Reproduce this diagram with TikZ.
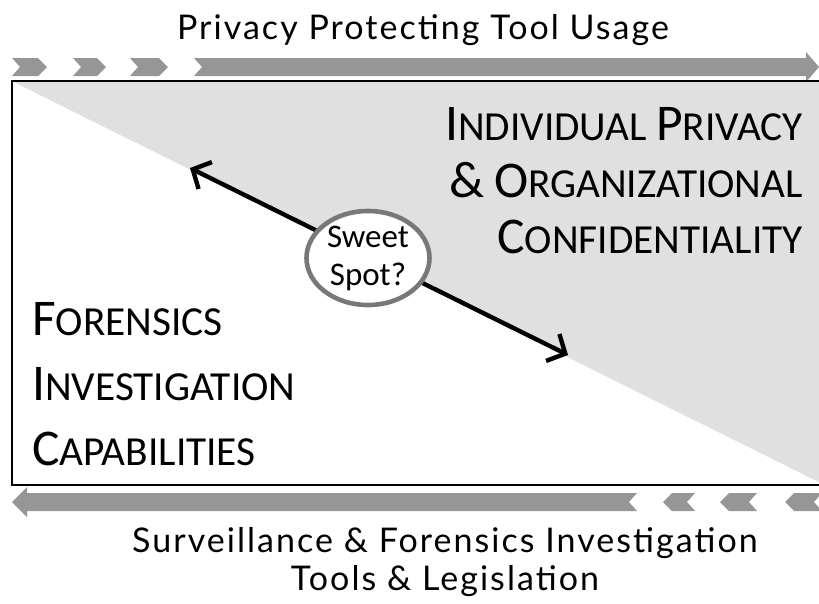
\documentclass[tikz,border=0pt]{standalone}
\usepackage{fontspec}
\setmainfont{Carlito}
\newfontfamily\titfont[LetterSpace=6]{Lato}
\usetikzlibrary{arrows.meta,shapes.geometric}
\definecolor{arrgray}{RGB}{150,150,150}
\definecolor{trigray}{RGB}{224,224,224}
\definecolor{ringgray}{RGB}{120,120,120}
\newcommand\BigSmall[2]{{\fontsize{51.5}{51.5}\selectfont #1}{\fontsize{41.3}{41.3}\selectfont #2}}
\begin{document}
\begin{tikzpicture}[x=1pt,y=-1pt,
  bandarrow/.style={fill=arrgray,draw=none},
  bigtext/.style={inner sep=0pt,font=\fontsize{41.3}{41.3}\selectfont},
  titletext/.style={inner sep=0pt,font=\titfont\fontsize{34}{34}\selectfont},
  spot/.style={ellipse,draw=ringgray,line width=4.6pt,fill=white,inner sep=0pt,
    minimum width=123pt,minimum height=94pt,align=center,font=\fontsize{33}{38}\selectfont}]
\useasboundingbox (0,0) rectangle (819,603);
% title
\node[titletext,anchor=base] (toptitle) at (423,39) {Privacy Protecting Tool Usage};
% top arrow chevrons
\foreach \xa/\xb in {12/47,73/106,130/168}{
  \fill[bandarrow] (\xa,58) -- (\xb-9,58) -- (\xb,67) -- (\xb-9,76) -- (\xa,76) -- (\xa+8,67) -- cycle;
}
\fill[bandarrow] (194,58) -- (806,58) -- (806,52) -- (819,67) -- (806,82) -- (806,76) -- (194,76) -- (202,67) -- cycle;
% box with shaded triangle
\fill[trigray] (12,81) -- (830,81) -- (830,482) -- (819,482) -- cycle;
\fill[trigray] (12,81) -- (819,81) -- (819,482) -- cycle;
\draw[line width=2.8pt] (12,81) rectangle (830,485);
% bottom arrow
\fill[bandarrow] (12,502) -- (27,487) -- (27,493) -- (637,493) -- (629,502) -- (637,511) -- (27,511) -- (27,517) -- cycle;
\foreach \xa/\xb in {663/695,720/757,785/822}{
  \fill[bandarrow] (\xa,502) -- (\xa+9,493) -- (\xb,493) -- (\xb-8,502) -- (\xb,511) -- (\xa+9,511) -- cycle;
}
% region texts
\node[bigtext,anchor=base east] (ip1) at (803,140) {\BigSmall{I}{NDIVIDUAL} \BigSmall{P}{RIVACY}};
\node[bigtext,anchor=base east] (ip2) at (803,197) {\BigSmall{\&}{} \BigSmall{O}{RGANIZATIONAL}};
\node[bigtext,anchor=base east] (ip3) at (803,253) {\BigSmall{C}{ONFIDENTIALITY}};
\node[bigtext,anchor=base west] (fc1) at (32,335) {\BigSmall{F}{ORENSICS}};
\node[bigtext,anchor=base west] (fc2) at (32,400) {\BigSmall{I}{NVESTIGATION}};
\node[bigtext,anchor=base west] (fc3) at (32,465) {\BigSmall{C}{APABILITIES}};
% double arrow with sweet spot
\coordinate (ua) at (190,168);
\coordinate (lb) at (568,355);
\draw[line width=4.4pt,{Straight Barb[length=14pt,width=30pt]}-{Straight Barb[length=14pt,width=30pt]}] (ua) -- (lb);
\node[spot] (sweet) at (368,258) {Sweet\\Spot?};
% bottom title
\node[titletext,anchor=base] (bt1) at (445,552) {Surveillance \& Forensics Investigation};
\node[titletext,anchor=base] (bt2) at (445,590) {Tools \& Legislation};
\end{tikzpicture}
\end{document}
